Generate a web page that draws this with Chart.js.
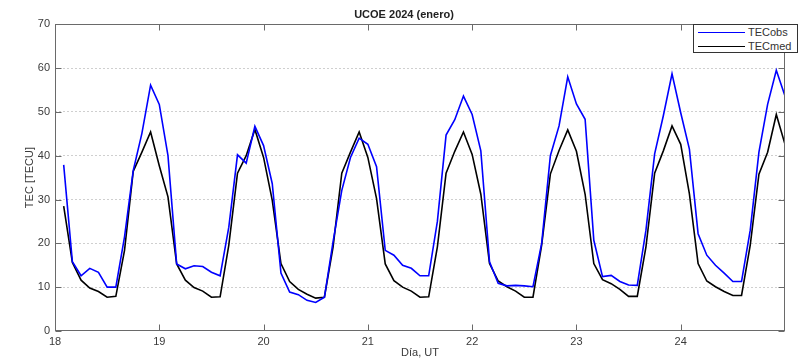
<!DOCTYPE html>
<html>
<head>
<meta charset="utf-8">
<script src="https://cdn.jsdelivr.net/npm/chart.js@4"></script>
<style>
  html, body { margin: 0; padding: 0; background: #fff; }
  #wrap { position: relative; width: 804px; height: 360px; }
  #legend {
    position: absolute; left: 693px; top: 24px; width: 105px; height: 29px;
    border: 1px solid #333; background: #fff; box-sizing: border-box;
    font-family: "Liberation Sans", Arial, sans-serif; font-size: 11px; color: #333;
  }
  .row { position: absolute; left: 0; height: 13px; width: 100%; }
  .row .ln { position: absolute; left: 4px; top: 6px; width: 47px; height: 0; border-top: 1.5px solid; }
  .row .tx { position: absolute; left: 54px; top: 0; line-height: 13px; }
</style>
</head>
<body>
<div id="wrap">
  <canvas id="c" width="804" height="360"></canvas>
  <div id="legend">
    <div class="row" style="top:1px"><div class="ln" style="border-color:#0000ff"></div><div class="tx">TECobs</div></div>
    <div class="row" style="top:15px"><div class="ln" style="border-color:#000000"></div><div class="tx">TECmed</div></div>
  </div>
</div>
<script>
// Time grid: 2-hour samples, 18 Jan 02:00 UT to 25 Jan 00:00 UT
const DAY_START = 18;
const STEP_DAYS = 2 / 24;

const tecObs = [
  37.9, 15.8, 12.6, 14.3, 13.4, 10.0, 10.0, 21.5, 36.6, 45.1, 56.1, 51.7,
  40.0, 15.3, 14.2, 14.9, 14.7, 13.4, 12.6, 23.7, 40.2, 38.3, 46.7, 42.3,
  33.6, 13.2, 8.9, 8.3, 7.0, 6.5, 7.7, 20.4, 32.1, 39.6, 44.0, 42.6,
  37.5, 18.4, 17.3, 15.0, 14.3, 12.6, 12.6, 25.0, 44.7, 48.2, 53.6, 49.4,
  41.1, 15.8, 10.9, 10.3, 10.4, 10.3, 10.1, 20.0, 40.0, 46.8, 58.0, 51.8,
  48.3, 20.7, 12.4, 12.7, 11.3, 10.5, 10.4, 23.0, 40.4, 49.1, 58.7, 49.8,
  41.5, 22.2, 17.3, 15.0, 13.2, 11.3, 11.3, 23.0, 40.8, 51.7, 59.5, 53.6
];
const tecMed = [
  28.5, 15.6, 11.6, 9.8, 9.0, 7.7, 7.9, 18.4, 36.4, 40.8, 45.4, 37.7,
  30.6, 15.3, 11.6, 9.9, 9.1, 7.7, 7.8, 19.6, 36.0, 40.0, 46.0, 39.6,
  29.8, 15.4, 11.3, 9.5, 8.4, 7.5, 7.7, 19.2, 36.0, 40.8, 45.4, 39.6,
  30.2, 15.3, 11.5, 10.0, 9.1, 7.7, 7.8, 19.2, 36.0, 41.0, 45.4, 40.3,
  31.2, 15.4, 11.4, 10.1, 9.1, 7.7, 7.7, 19.6, 35.8, 41.2, 45.9, 41.0,
  31.2, 15.4, 11.7, 10.8, 9.5, 7.9, 7.9, 19.2, 36.0, 41.1, 46.8, 42.6,
  31.3, 15.4, 11.4, 10.1, 9.0, 8.1, 8.1, 19.6, 35.8, 40.8, 49.4, 42.6
];
const xTickValues = [18, 19, 20, 21, 22, 23, 24];
const yTickValues = [0, 10, 20, 30, 40, 50, 60, 70];

const times = tecObs.map((_, i) => DAY_START + (i + 1) * STEP_DAYS);
const toXY = arr => arr.map((v, i) => ({ x: times[i], y: v }));

const FONT = "'Liberation Sans', Arial, sans-serif";
const TXT = '#3a3a3a';
const AXC = '#6a6a6a';

const framePlugin = {
  id: 'frame',
  afterDraw(chart) {
    const { ctx, chartArea: a, scales: { x, y } } = chart;
    ctx.save();
    ctx.strokeStyle = AXC;
    ctx.lineWidth = 1;
    const L = Math.round(a.left) + 0.5, R = Math.round(a.right) - 0.5;
    const T = Math.round(a.top) + 0.5, B = Math.round(a.bottom) - 0.5;
    ctx.strokeRect(L, T, R - L, B - T);
    ctx.beginPath();
    xTickValues.forEach(v => {
      const px = Math.round(x.getPixelForValue(v)) + 0.5;
      ctx.moveTo(px, B); ctx.lineTo(px, B - 6);
      ctx.moveTo(px, T); ctx.lineTo(px, T + 6);
    });
    yTickValues.forEach(v => {
      const py = Math.round(y.getPixelForValue(v)) + 0.5;
      ctx.moveTo(L, py); ctx.lineTo(L + 6, py);
      ctx.moveTo(R, py); ctx.lineTo(R - 6, py);
    });
    ctx.stroke();
    ctx.restore();
  }
};

new Chart(document.getElementById('c'), {
  type: 'line',
  data: {
    datasets: [
      { label: 'TECobs', data: toXY(tecObs), borderColor: '#0000ff', borderWidth: 1.6, pointRadius: 0, tension: 0, fill: false },
      { label: 'TECmed', data: toXY(tecMed), borderColor: '#000000', borderWidth: 1.6, pointRadius: 0, tension: 0, fill: false }
    ]
  },
  options: {
    responsive: false,
    animation: false,
    layout: { padding: { left: 23, right: 19, top: 0, bottom: 0 } },
    plugins: {
      legend: { display: false },
      tooltip: { enabled: false },
      title: {
        display: true, text: 'UCOE 2024 (enero)', color: '#222',
        font: { family: FONT, size: 11, weight: 'bold' },
        padding: { top: 8, bottom: 3 }
      }
    },
    scales: {
      x: {
        type: 'linear', min: 18, max: 25,
        afterBuildTicks: s => { s.ticks = xTickValues.map(v => ({ value: v })); },
        afterFit: s => { s.height = 29; },
        grid: { display: false, drawTicks: false },
        border: { display: false },
        ticks: { color: TXT, font: { family: FONT, size: 11 }, padding: 4, maxRotation: 0, autoSkip: false },
        title: { display: true, text: 'Día, UT', color: TXT, font: { family: FONT, size: 11 }, padding: { top: 0, bottom: 0 } }
      },
      y: {
        min: 0, max: 70,
        afterBuildTicks: s => { s.ticks = yTickValues.map(v => ({ value: v })); },
        afterFit: s => { s.width = 32; },
        grid: {
          drawTicks: false,
          color: ctx => (ctx.tick && (ctx.tick.value === 0 || ctx.tick.value === 70)) ? 'rgba(0,0,0,0)' : '#cfcfcf',
          lineWidth: 1
        },
        border: { display: false, dash: [2, 2] },
        ticks: { color: TXT, font: { family: FONT, size: 11 }, padding: 5 },
        title: { display: true, text: 'TEC [TECU]', color: TXT, font: { family: FONT, size: 11 }, padding: { top: 0, bottom: 0 } }
      }
    }
  },
  plugins: [framePlugin]
});
</script>
</body>
</html>
